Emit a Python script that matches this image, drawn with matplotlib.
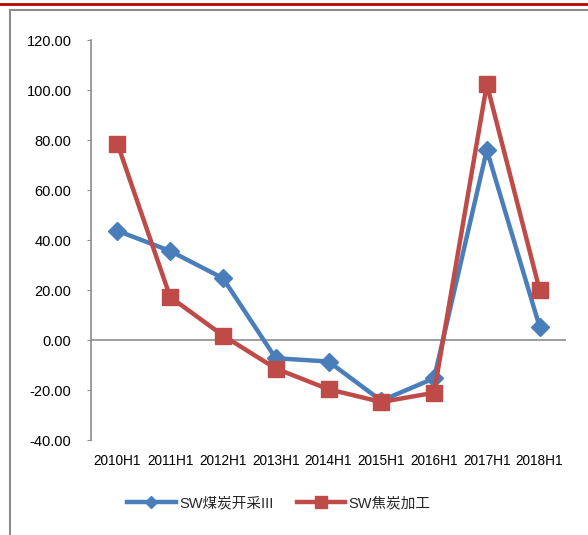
import matplotlib
matplotlib.use('Agg')
import matplotlib.pyplot as plt
from matplotlib.lines import Line2D
from matplotlib.patches import Rectangle

plt.rcParams['font.family'] = ['Liberation Sans', 'Noto Sans CJK SC', 'DejaVu Sans']

# data
categories = ['2010H1', '2011H1', '2012H1', '2013H1', '2014H1',
              '2015H1', '2016H1', '2017H1', '2018H1']
coal_mining = [43.7, 35.6, 24.7, -7.3, -8.6, -24.3, -15.3, 76.0, 5.3]
coke_processing = [78.6, 17.2, 1.8, -11.4, -19.7, -24.8, -21.1, 102.3, 20.0]
series_names = ['SW煤炭开采III', 'SW焦炭加工']
yticks = [-40, -20, 0, 20, 40, 60, 80, 100, 120]

blue = '#4A7EBB'
red = '#BE4B48'

fig = plt.figure(figsize=(5.88, 5.35), dpi=100)

# outer frame and red rule at the top
fig.add_artist(Line2D([0, 1], [1 - 3.5/535, 1 - 3.5/535], color='#C00000', lw=2))
fig.add_artist(Rectangle((10/588, -0.01), 1.0, 1 - 10/535 + 0.01, fill=False,
                         ec='#8C8C8C', lw=1.5, transform=fig.transFigure))

W, H = 588, 535
ax = fig.add_axes([91/W, (H-440)/H, (566-91)/W, 400/H])
x = list(range(len(categories)))

ax.plot(x, coal_mining, color=blue, lw=3.2, marker='D', ms=9,
        label=series_names[0], zorder=3)
ax.plot(x, coke_processing, color=red, lw=3.2, marker='s', ms=12,
        label=series_names[1], zorder=3)

ax.set_xlim(-0.5, len(categories) - 0.5)
ax.set_ylim(-40, 120)
ax.set_yticks(yticks)
ax.set_yticklabels(['%.2f' % v for v in yticks], fontsize=10.5)
ax.set_xticks(x)
ax.set_xticklabels(categories, fontsize=9.8)

for s in ['top', 'right', 'bottom']:
    ax.spines[s].set_visible(False)
ax.spines['left'].set_color('#8C8C8C')
ax.spines['left'].set_linewidth(1.2)
ax.axhline(0, color='#8C8C8C', lw=1.2, zorder=1)
ax.tick_params(axis='y', length=3, color='#8C8C8C', pad=11)
ax.tick_params(axis='x', length=0, pad=10)

leg = fig.legend(loc='center', bbox_to_anchor=(279/W, 1 - 503/H), ncol=2,
                 frameon=False, fontsize=10.5, handlelength=3.3,
                 columnspacing=1.6, handletextpad=0.25)
leg.legend_handles[0].set_markersize(6)
leg.legend_handles[1].set_markersize(8)
for t in leg.get_texts():
    t.set_color('#262626')

fig.savefig('out.png', dpi=100)
